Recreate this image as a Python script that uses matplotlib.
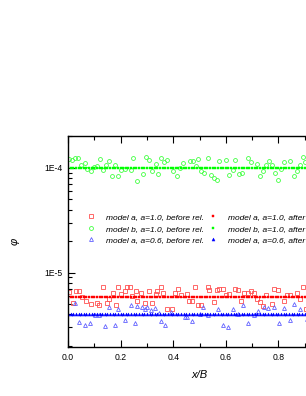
import numpy as np
import matplotlib
matplotlib.use("Agg")
import matplotlib.pyplot as plt
from matplotlib.ticker import LogLocator, NullFormatter, FixedLocator, MultipleLocator

plt.rcParams['font.family'] = ['Liberation Sans', 'DejaVu Sans']

# ---- data ----
x_ticks = [0.0, 0.2, 0.4, 0.6, 0.8, 1.0]
x_tick_labels = ["0.0", "0.2", "0.4", "0.6", "0.8", "1.0"]
y_ticks = [1e-5, 1e-4]
y_tick_labels = ["1E-5", "1E-4"]

# model b, a=1.0, before relaxation (green open circles)
x_b10_before = [0.004, 0.015, 0.027, 0.038, 0.048, 0.064, 0.071, 0.086, 0.100, 0.112,
                0.122, 0.134, 0.146, 0.156, 0.169, 0.179, 0.192, 0.203, 0.216, 0.239,
                0.249, 0.262, 0.285, 0.296, 0.309, 0.320, 0.333, 0.344, 0.354, 0.366,
                0.377, 0.400, 0.414, 0.424, 0.437, 0.462, 0.475, 0.486, 0.495, 0.506,
                0.518, 0.531, 0.544, 0.554, 0.565, 0.576, 0.601, 0.613, 0.626, 0.636,
                0.649, 0.660, 0.683, 0.696, 0.719, 0.729, 0.742, 0.753, 0.765, 0.777,
                0.787, 0.800, 0.810, 0.823, 0.846, 0.858, 0.869, 0.881, 0.894, 0.902,
                0.925, 0.950, 0.975]
phi_b10_before = [1.21e-4, 1.19e-4, 1.24e-4, 1.24e-4, 1.06e-4, 1.11e-4, 0.98e-4, 0.94e-4, 1.03e-4, 1.04e-4,
                  1.21e-4, 0.96e-4, 1.06e-4, 1.17e-4, 0.84e-4, 1.06e-4, 0.83e-4, 0.96e-4, 0.98e-4, 0.96e-4,
                  1.25e-4, 0.75e-4, 0.88e-4, 1.27e-4, 1.19e-4, 0.94e-4, 1.08e-4, 0.88e-4, 1.25e-4, 1.14e-4,
                  1.19e-4, 0.93e-4, 0.83e-4, 0.99e-4, 1.11e-4, 1.17e-4, 1.17e-4, 1.04e-4, 1.21e-4, 0.94e-4,
                  0.90e-4, 1.25e-4, 0.85e-4, 0.81e-4, 0.77e-4, 1.17e-4, 1.19e-4, 0.86e-4, 0.96e-4, 1.19e-4,
                  0.88e-4, 0.90e-4, 1.25e-4, 1.14e-4, 1.08e-4, 0.83e-4, 0.94e-4, 1.06e-4, 1.16e-4, 1.06e-4,
                  0.89e-4, 0.77e-4, 0.97e-4, 1.14e-4, 1.16e-4, 0.84e-4, 0.93e-4, 1.06e-4, 1.27e-4, 1.14e-4,
                  0.92e-4, 1.10e-4, 0.86e-4]

# model a, a=1.0, before relaxation (red open squares)
x_a10_before = [0.003, 0.020, 0.029, 0.040, 0.055, 0.067, 0.086, 0.109, 0.119, 0.134,
                0.147, 0.157, 0.170, 0.182, 0.191, 0.203, 0.215, 0.226, 0.236, 0.245,
                0.259, 0.264, 0.279, 0.294, 0.307, 0.320, 0.333, 0.340, 0.353, 0.363,
                0.376, 0.394, 0.407, 0.417, 0.428, 0.452, 0.460, 0.472, 0.483, 0.493,
                0.506, 0.531, 0.538, 0.554, 0.566, 0.576, 0.589, 0.599, 0.611, 0.635,
                0.645, 0.658, 0.671, 0.683, 0.695, 0.706, 0.718, 0.729, 0.741, 0.754,
                0.774, 0.784, 0.797, 0.823, 0.833, 0.846, 0.869, 0.881, 0.894, 0.904,
                0.930, 0.960, 0.985]
phi_a10_before = [6.58e-6, 5.10e-6, 6.73e-6, 6.73e-6, 5.90e-6, 5.40e-6, 5.02e-6, 5.16e-6, 4.94e-6, 7.35e-6,
                  5.10e-6, 5.65e-6, 6.35e-6, 4.94e-6, 7.25e-6, 6.26e-6, 6.64e-6, 7.25e-6, 7.35e-6, 5.99e-6,
                  6.64e-6, 5.40e-6, 6.35e-6, 5.16e-6, 6.64e-6, 5.10e-6, 6.26e-6, 6.64e-6, 7.25e-6, 6.35e-6,
                  4.47e-6, 4.53e-6, 6.35e-6, 6.93e-6, 6.17e-6, 6.26e-6, 5.33e-6, 5.33e-6, 7.25e-6, 4.94e-6,
                  4.94e-6, 7.25e-6, 6.83e-6, 5.25e-6, 6.83e-6, 6.93e-6, 6.93e-6, 6.17e-6, 6.26e-6, 7.03e-6,
                  6.83e-6, 5.33e-6, 6.43e-6, 6.35e-6, 6.64e-6, 6.43e-6, 5.57e-6, 5.25e-6, 4.81e-6, 6.17e-6,
                  5.02e-6, 6.93e-6, 6.83e-6, 5.33e-6, 6.08e-6, 6.17e-6, 6.35e-6, 5.65e-6, 7.25e-6, 4.47e-6,
                  6.50e-6, 5.20e-6, 7.00e-6]

# model a, a=0.6, before relaxation (blue open triangles)
x_a06_before = [0.025, 0.043, 0.064, 0.084, 0.102, 0.117, 0.142, 0.157, 0.180, 0.192,
                0.216, 0.239, 0.256, 0.261, 0.282, 0.294, 0.299, 0.317, 0.330, 0.345,
                0.355, 0.370, 0.393, 0.446, 0.454, 0.472, 0.500, 0.513, 0.531, 0.571,
                0.589, 0.610, 0.627, 0.647, 0.665, 0.686, 0.706, 0.724, 0.744, 0.762,
                0.782, 0.803, 0.823, 0.843, 0.861, 0.881, 0.910, 0.940, 0.970]
phi_a06_before = [5.10e-6, 3.38e-6, 3.14e-6, 3.28e-6, 3.97e-6, 3.91e-6, 3.10e-6, 4.67e-6, 3.14e-6, 4.53e-6,
                  3.54e-6, 4.94e-6, 3.33e-6, 4.81e-6, 4.67e-6, 4.47e-6, 4.73e-6, 4.40e-6, 4.60e-6, 4.15e-6,
                  3.43e-6, 3.14e-6, 4.21e-6, 3.75e-6, 3.75e-6, 3.48e-6, 4.03e-6, 4.67e-6, 3.97e-6, 4.53e-6,
                  3.18e-6, 3.05e-6, 4.53e-6, 4.03e-6, 4.88e-6, 3.28e-6, 3.97e-6, 4.28e-6, 4.67e-6, 4.60e-6,
                  4.67e-6, 3.28e-6, 4.60e-6, 3.54e-6, 5.02e-6, 4.47e-6, 3.60e-6, 4.50e-6, 3.30e-6]

# after relaxation: sampled on a uniform grid, values level
x_after = np.round(np.arange(0, 101) * 0.01, 2)
phi_a10_after_level = 5.9e-6
phi_b10_after_level = 1.0e-4
phi_a06_after_level = 4.07e-6
phi_a10_after = [phi_a10_after_level] * len(x_after)
phi_b10_after = [phi_b10_after_level] * len(x_after)
phi_a06_after = [phi_a06_after_level] * len(x_after)

labels = ["model a, a=1.0, before rel.", "model b, a=1.0, before rel.",
          "model a, a=0.6, before rel.", "model a, a=1.0, after rel.",
          "model b, a=1.0, after rel.", "model a, a=0.6, after rel."]

# ---- figure ----
W, H = 306, 396
fig = plt.figure(figsize=(W / 100, H / 100), dpi=100)
ax = fig.add_axes([68 / W, (H - 347) / H, (331 - 68) / W, (347 - 136) / H])

red_o = '#ff5050'
green_o = '#40ff40'
blue_o = '#6060ff'
lw = 0.6
h1, = ax.plot(x_a10_before, phi_a10_before, ls='none', marker='s', ms=2.6,
              mfc='none', mec=red_o, mew=lw, label=labels[0])
h2, = ax.plot(x_b10_before, phi_b10_before, ls='none', marker='o', ms=2.8,
              mfc='none', mec=green_o, mew=lw, label=labels[1])
h3, = ax.plot(x_a06_before, phi_a06_before, ls='none', marker='^', ms=2.8,
              mfc='none', mec=blue_o, mew=lw, label=labels[2])
h4, = ax.plot(x_after, phi_a10_after, ls='none', marker='s', ms=2.0,
              mfc='#ff0000', mec='#ff0000', mew=0.3, label=labels[3])
h5, = ax.plot(x_after, phi_b10_after, ls='none', marker='s', ms=2.0,
              mfc='#00ff00', mec='#00ff00', mew=0.3, label=labels[4])
h6, = ax.plot(x_after, phi_a06_after, ls='none', marker='^', ms=2.2,
              mfc='#0000ff', mec='#0000ff', mew=0.3, label=labels[5])

ax.set_yscale('log')
ax.set_xlim(0, 1.0)
ax.set_ylim(1.95e-6, 2.02e-4)

ax.xaxis.set_major_locator(FixedLocator(x_ticks))
ax.set_xticklabels(x_tick_labels)
ax.xaxis.set_minor_locator(MultipleLocator(0.1))
ax.yaxis.set_major_locator(FixedLocator(y_ticks))
ax.set_yticklabels(y_tick_labels)
ax.yaxis.set_minor_locator(LogLocator(base=10, subs=np.arange(2, 10)))
ax.yaxis.set_minor_formatter(NullFormatter())

ax.tick_params(which='both', direction='in', top=True, right=True, width=0.8,
               labelsize=6.2, pad=4)
ax.tick_params(which='major', length=5)
ax.tick_params(which='minor', length=3)
for s in ax.spines.values():
    s.set_linewidth(1.0)

ax.set_xlabel('x/B', fontsize=8, style='italic', labelpad=6)
ax.set_ylabel('φ', fontsize=8, style='italic', labelpad=18)

leg = ax.legend(handles=[h1, h2, h3, h4, h5, h6], ncol=2, frameon=False,
                loc='upper left', bbox_to_anchor=(87 / W, 1 - 213.5 / H),
                bbox_transform=fig.transFigure,
                prop={'size': 6.0, 'style': 'italic'},
                handlelength=1.0, handletextpad=1.3, columnspacing=0.55,
                labelspacing=0.43, markerscale=1.0, borderaxespad=0, borderpad=0)

fig.savefig('out.png', dpi=100)
